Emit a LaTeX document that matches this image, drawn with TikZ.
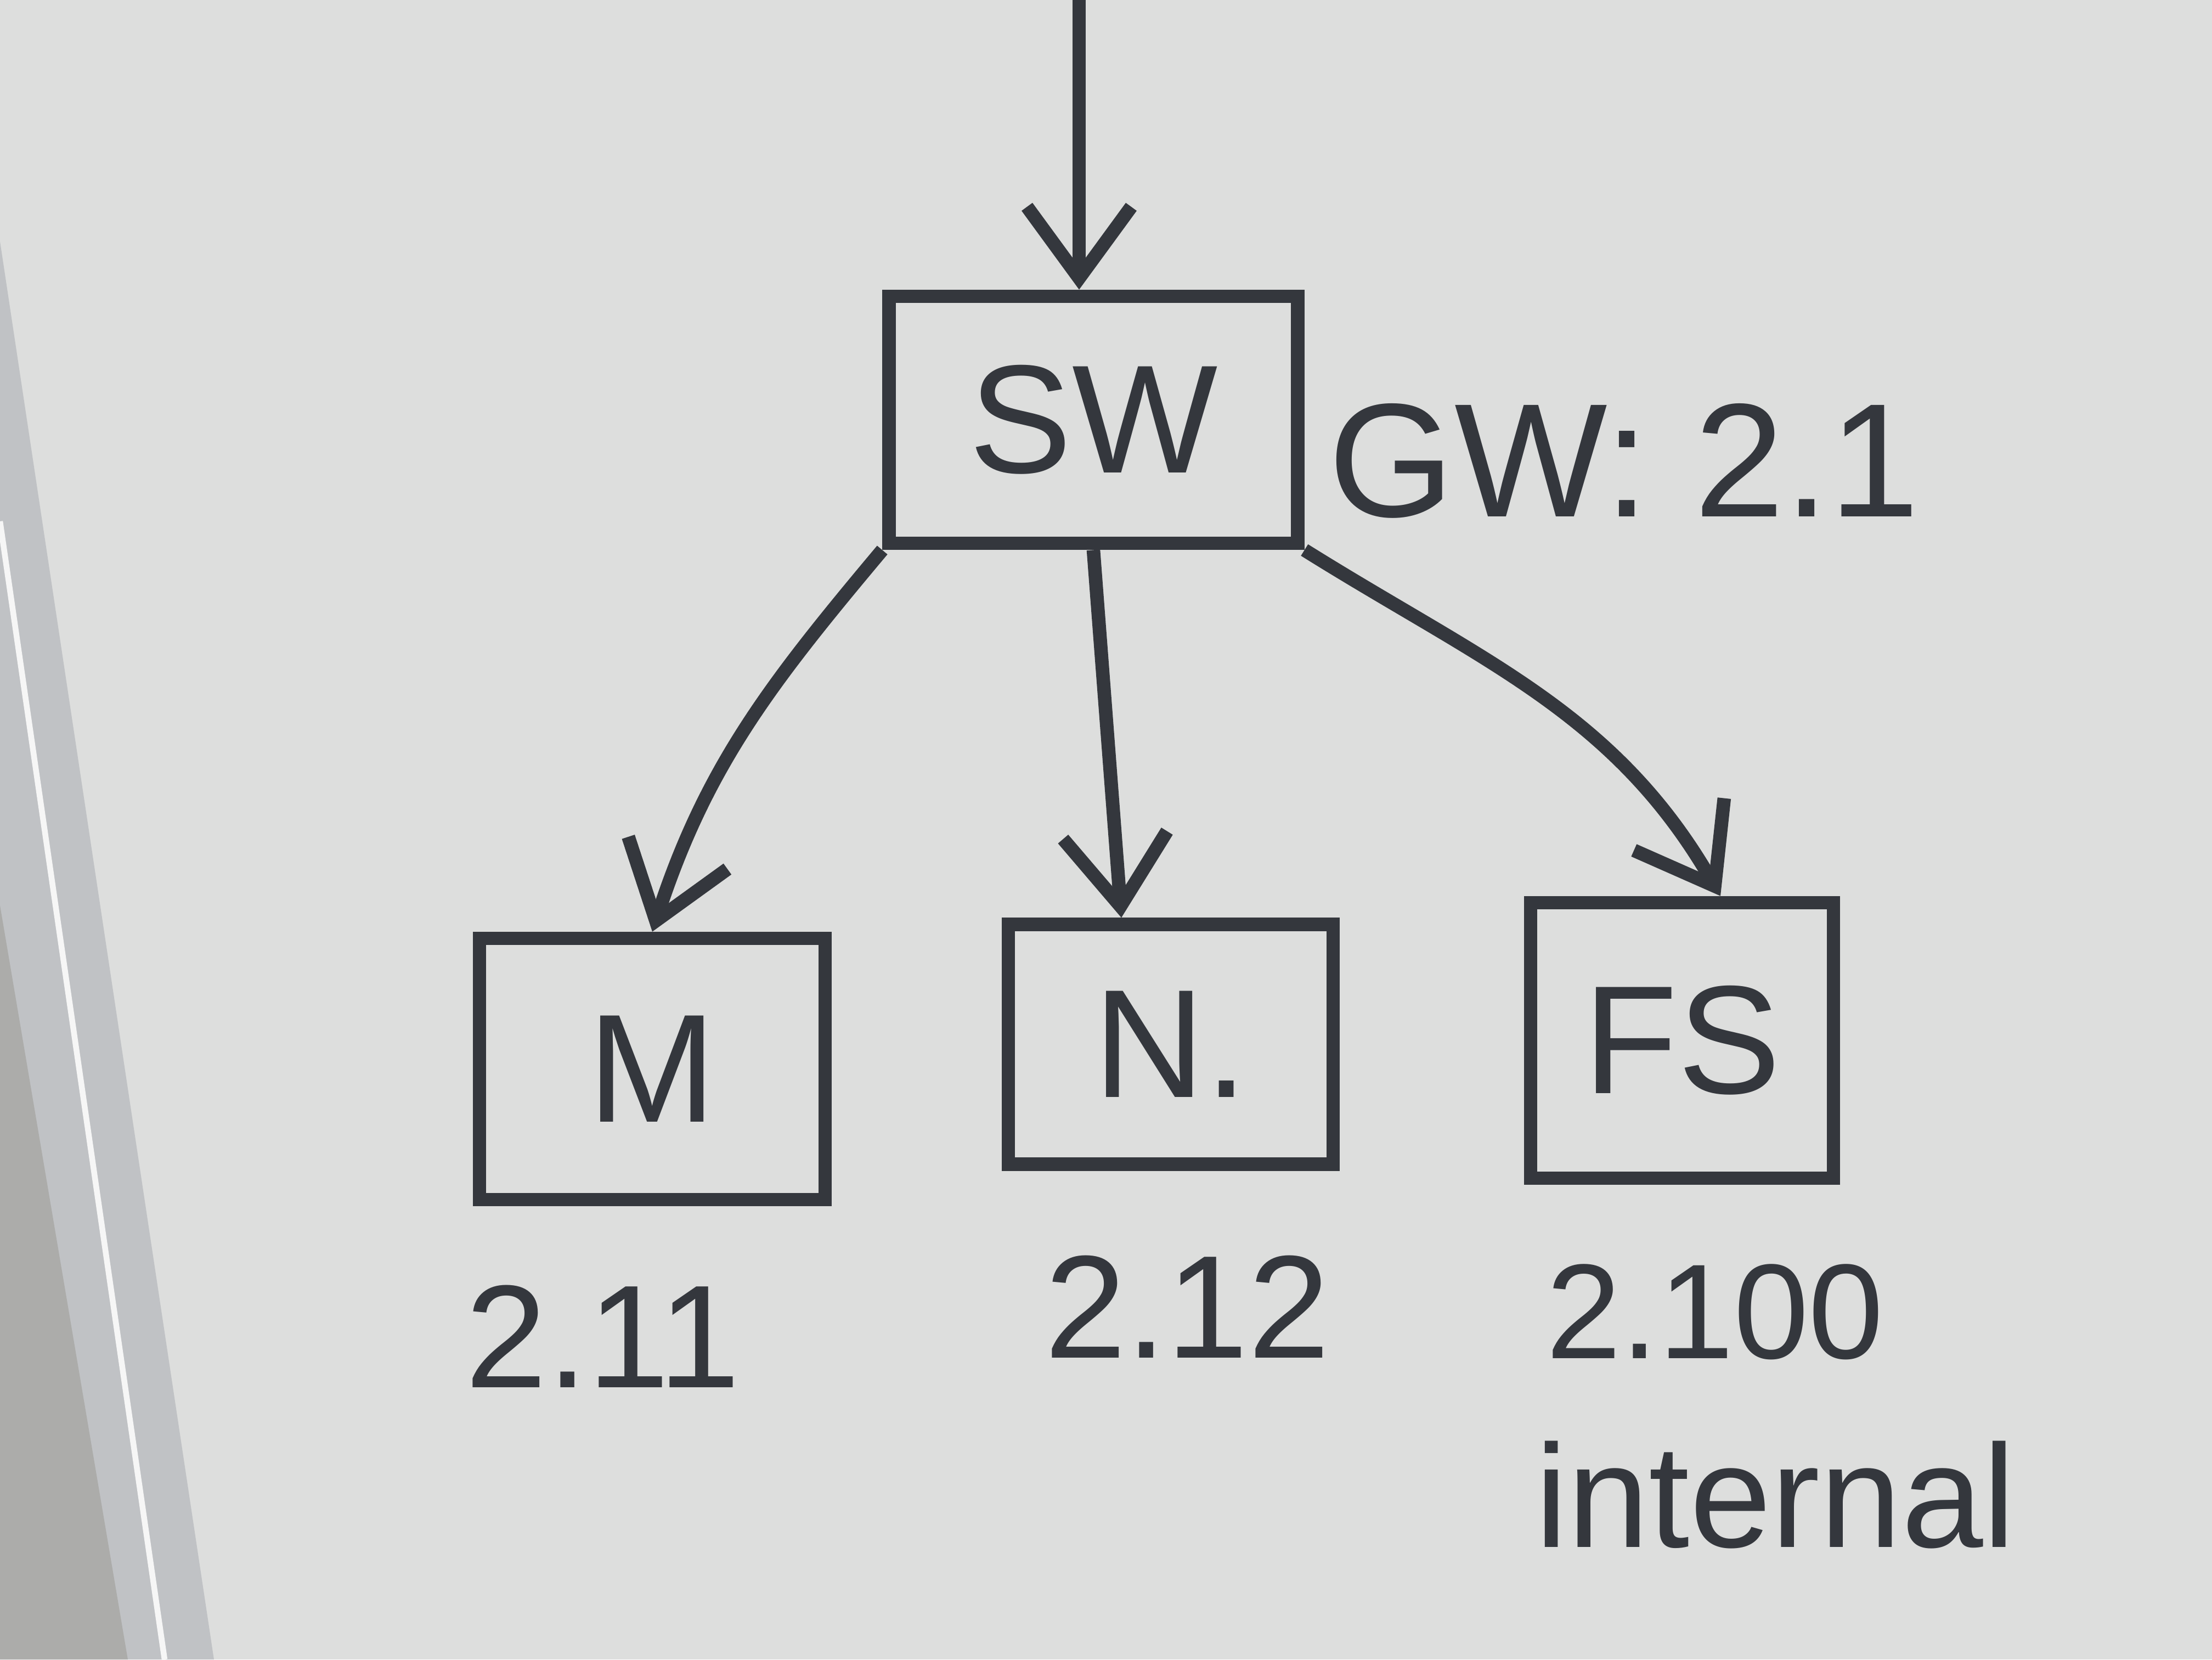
\documentclass[tikz,border=0pt]{standalone}
\usepackage{fontspec}
\setmainfont{Liberation Sans}
\usetikzlibrary{arrows.meta,positioning}

\definecolor{board}{RGB}{221,222,221}
\definecolor{ink}{RGB}{52,55,61}
\definecolor{rim}{RGB}{192,194,197}
\definecolor{wall}{RGB}{172,172,170}

\begin{document}
\begin{tikzpicture}[->,>={Straight Barb[length=13mm,width=19mm]},line width=7pt,draw=ink,text=ink,
    box/.style={draw,rectangle,font=\fontsize{80}{90}\selectfont},
    addr/.style={font=\fontsize{76}{90}\selectfont}]

            % whiteboard, its frame and the wall
            \useasboundingbox (0,0) rectangle (40.32,-30.24);
            \fill[board] (0,0) rectangle (40.32,-30.24);
            \fill[rim] (0,-4.4) -- (3.9,-30.24) -- (0,-30.24) -- cycle;
            \fill[wall] (0,-16.5) -- (2.33,-30.24) -- (0,-30.24) -- cycle;
            \draw[-,line width=3pt,white!85!rim] (0,-9.5) -- (3.0,-30.24);

            \coordinate (in) at (19.67,0);
            \node[box, minimum width=7.45cm, minimum height=4.5cm] (sw) at (19.93,-7.65) {SW};
            \node[] (gw) at (29.6,-8.4) {\fontsize{84}{96}\selectfont GW: 2.1};

            \node[box, minimum width=6.3cm, minimum height=4.76cm] (m) at (11.89,-19.48) {M};
            \node[box, minimum width=5.92cm, minimum height=4.37cm] (n) at (21.34,-19.03) {N.};
            \node[box, minimum width=5.52cm, minimum height=5.02cm] (fs) at (30.66,-18.96) {FS};

            \node[addr] (a1) [below = 1.2cm of m, xshift=-9mm] {2.11};
            \node[addr] (a2) [below = 1.3cm of n, xshift=3mm] {2.12};
            \node[addr] (a3) [below = 1.2cm of fs, xshift=6mm] {\fontsize{70}{84}\selectfont 2.100};
            \node[addr] (int) [below = 1cm of a3, xshift=11mm] {internal};

            \draw (in) -- (in |- sw.north);
            \draw (sw.south west) to[out=-130,in=72] (m.north);
            \draw (sw.south) -- ([xshift=-9mm]n.north);
            \draw (sw.south east) to[out=-32,in=120] ([xshift=7mm]fs.north);
        \end{tikzpicture}
\end{document}
